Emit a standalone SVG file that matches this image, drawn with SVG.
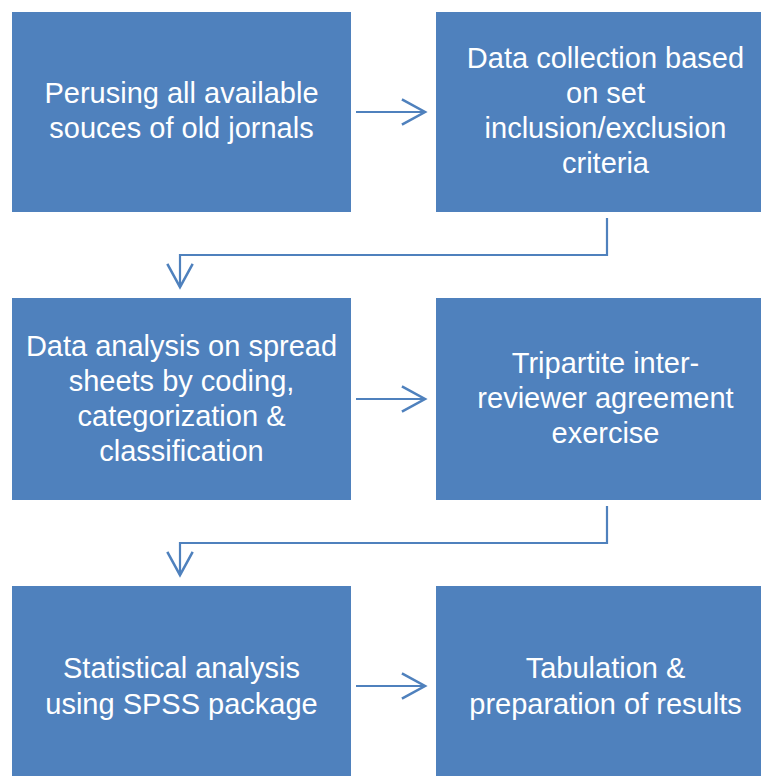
<svg xmlns="http://www.w3.org/2000/svg" width="761" height="776" viewBox="0 0 761 776">
<defs>
<style>
.box{fill:#4F81BD;}
.lbl{font-family:"Liberation Sans",Arial,sans-serif;font-size:29px;fill:#FFFFFF;text-anchor:middle;}
.conn{fill:none;stroke:#4F81BD;stroke-width:2.2;}
</style>
<marker id="arr" markerUnits="userSpaceOnUse" markerWidth="30" markerHeight="30" viewBox="-22 -13 24 26" refX="0" refY="0" orient="auto">
<path d="M -20 -11 L 0 0 L -20 11" fill="none" stroke="#4F81BD" stroke-width="2.2"/>
</marker>
</defs>
<rect x="0" y="0" width="761" height="776" fill="#FFFFFF"/>
<g id="n1">
<rect class="box" x="12" y="12" width="339" height="200"/>
<text class="lbl" x="181.5" y="103">Perusing all available</text>
<text class="lbl" x="181.5" y="138">souces of old jornals</text>
</g>
<g id="n2">
<rect class="box" x="436" y="12" width="340" height="200"/>
<text class="lbl" x="605.5" y="68">Data collection based</text>
<text class="lbl" x="605.5" y="103">on set</text>
<text class="lbl" x="605.5" y="138">inclusion/exclusion</text>
<text class="lbl" x="605.5" y="173">criteria</text>
</g>
<g id="n3">
<rect class="box" x="12" y="298" width="339" height="202"/>
<text class="lbl" x="181.5" y="356">Data analysis on spread</text>
<text class="lbl" x="181.5" y="391">sheets by coding,</text>
<text class="lbl" x="181.5" y="426">categorization &amp;</text>
<text class="lbl" x="181.5" y="461">classification</text>
</g>
<g id="n4">
<rect class="box" x="436" y="298" width="340" height="202"/>
<text class="lbl" x="605.5" y="373">Tripartite inter-</text>
<text class="lbl" x="605.5" y="408">reviewer agreement</text>
<text class="lbl" x="605.5" y="443">exercise</text>
</g>
<g id="n5">
<rect class="box" x="12" y="586" width="339" height="200"/>
<text class="lbl" x="181.5" y="678">Statistical analysis</text>
<text class="lbl" x="181.5" y="714">using SPSS package</text>
</g>
<g id="n6">
<rect class="box" x="436" y="586" width="340" height="200"/>
<text class="lbl" x="605.5" y="678">Tabulation &amp;</text>
<text class="lbl" x="605.5" y="714">preparation of results</text>
</g>
<g id="connectors">
<path class="conn" d="M 356 112 L 425 112" marker-end="url(#arr)"/>
<path class="conn" d="M 607 218 L 607 255 L 180 255 L 180 287" marker-end="url(#arr)"/>
<path class="conn" d="M 356 399 L 425 399" marker-end="url(#arr)"/>
<path class="conn" d="M 607 506 L 607 543 L 180 543 L 180 575" marker-end="url(#arr)"/>
<path class="conn" d="M 356 686 L 425 686" marker-end="url(#arr)"/>
</g>
</svg>
